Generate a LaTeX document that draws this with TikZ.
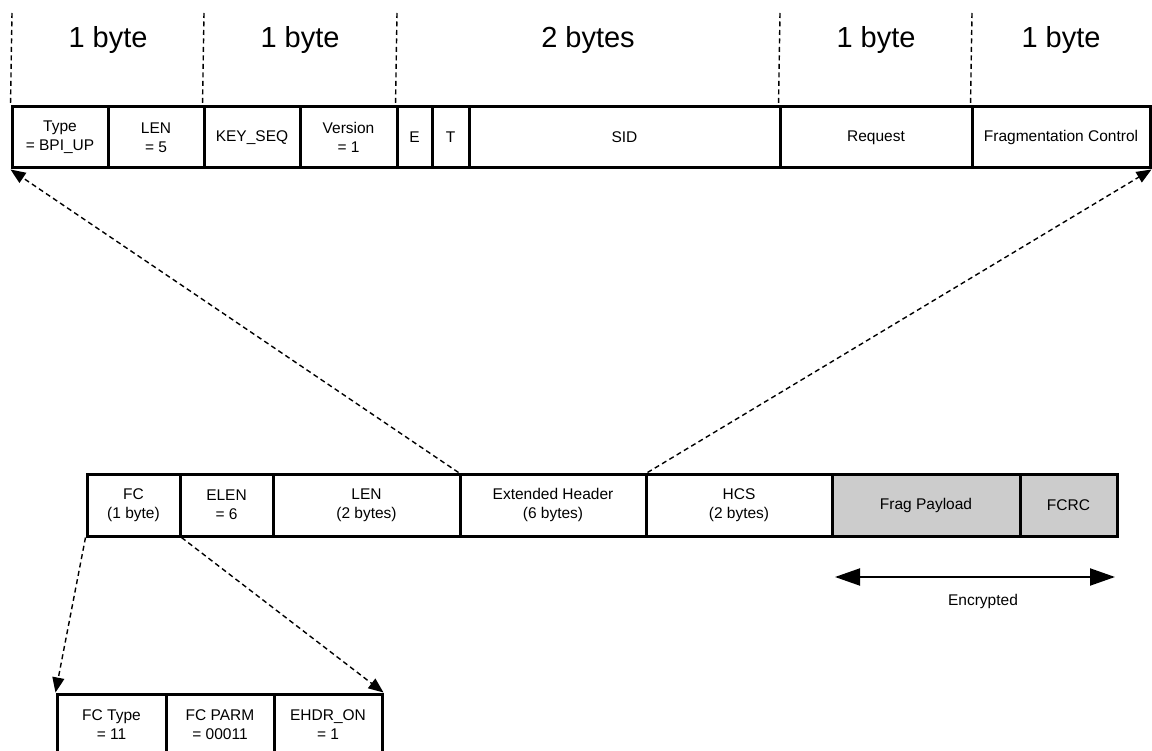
\documentclass[tikz,border=0pt]{standalone}
\usepackage{fontspec}
\setmainfont{Liberation Sans}
\usetikzlibrary{arrows.meta}
\definecolor{shade}{HTML}{CCCCCC}
\tikzset{
  cell/.style={draw=black, line width=3pt, inner sep=0pt, align=center,
    font=\fontsize{15.5}{19}\selectfont, minimum height=#1},
  cell/.default=61pt,
  bytelabel/.style={anchor=base, font=\fontsize{29}{34}\selectfont},
  guide/.style={line width=1.4pt, dash pattern=on 5pt off 3.5pt},
  zoomarrow/.style={line width=1.4pt, dash pattern=on 5pt off 3.5pt,
    -{Triangle[length=15pt,width=12pt]}},
  encarrow/.style={line width=2pt, {Triangle[length=25pt,width=17pt]}-{Triangle[length=25pt,width=17pt]}},
  smalltext/.style={font=\fontsize{15.5}{19}\selectfont}
}
\begin{document}
\begin{tikzpicture}[x=1pt,y=-1pt]
\useasboundingbox (0,0) rectangle (1152,751);

% ---- top row
\node[cell, minimum width=96pt] (type) at (60,137.5) {Type\\= BPI\_UP};
\node[cell, minimum width=96pt] (len5) at (156,137.5) {LEN\\= 5};
\node[cell, minimum width=96pt] (keyseq) at (252,137.5) {KEY\_SEQ};
\node[cell, minimum width=97pt] (version) at (348.5,137.5) {Version\\= 1};
\node[cell, minimum width=35pt] (e) at (414.5,137.5) {E};
\node[cell, minimum width=37pt] (t) at (450.5,137.5) {T};
\node[cell, minimum width=311pt] (sid) at (624.5,137.5) {SID};
\node[cell, minimum width=192pt] (request) at (876,137.5) {Request};
\node[cell, minimum width=178pt] (fragctl) at (1061,137.5) {Fragmentation Control};

% ---- byte guides
\coordinate (g1) at (12,13);
\coordinate (g2) at (204,13);
\coordinate (g3) at (397,13);
\coordinate (g4) at (780,13);
\coordinate (g5) at (972,13);
\draw[guide] (g1) -- (type.north west);
\draw[guide] (g2) -- (keyseq.north west);
\draw[guide] (g3) -- (e.north west);
\draw[guide] (g4) -- (request.north west);
\draw[guide] (g5) -- (fragctl.north west);

\node[bytelabel] (b1) at (108,48) {1 byte};
\node[bytelabel] (b2) at (300,48) {1 byte};
\node[bytelabel] (b3) at (588,48) {2 bytes};
\node[bytelabel] (b4) at (876,48) {1 byte};
\node[bytelabel] (b5) at (1061,48) {1 byte};

% ---- middle row
\node[cell=62pt, minimum width=93pt] (fc) at (133.5,505) {FC\\(1 byte)};
\node[cell=62pt, minimum width=93pt] (elen) at (226.5,505) {ELEN\\= 6};
\node[cell=62pt, minimum width=187pt] (len) at (366.5,505) {LEN\\(2 bytes)};
\node[cell=62pt, minimum width=186pt] (ext) at (553,505) {Extended Header\\(6 bytes)};
\node[cell=62pt, minimum width=186pt] (hcs) at (739,505) {HCS\\(2 bytes)};
\node[cell=62pt, minimum width=188pt, fill=shade] (frag) at (926,505) {Frag Payload};
\node[cell=62pt, minimum width=97pt, fill=shade] (fcrc) at (1068.5,505) {FCRC};

% ---- encrypted
\coordinate (encl) at (835,577);
\coordinate (encr) at (1115,577);
\draw[encarrow] (encl) -- (encr);
\node[smalltext] (enc) at (983,601) {Encrypted};

% ---- bottom row
\node[cell=62pt, minimum width=109pt] (fctype) at (111.5,725) {FC Type\\= 11};
\node[cell=62pt, minimum width=108pt] (fcparm) at (220,725) {FC PARM\\= 00011};
\node[cell=62pt, minimum width=108pt] (ehdr) at (328,725) {EHDR\_ON\\= 1};

% ---- zoom connectors
\draw[zoomarrow] (ext.north west) -- (type.south west);
\draw[zoomarrow] (ext.north east) -- (fragctl.south east);
\draw[zoomarrow] (fc.south west) -- (fctype.north west);
\draw[zoomarrow] (fc.south east) -- (ehdr.north east);
\end{tikzpicture}
\end{document}
